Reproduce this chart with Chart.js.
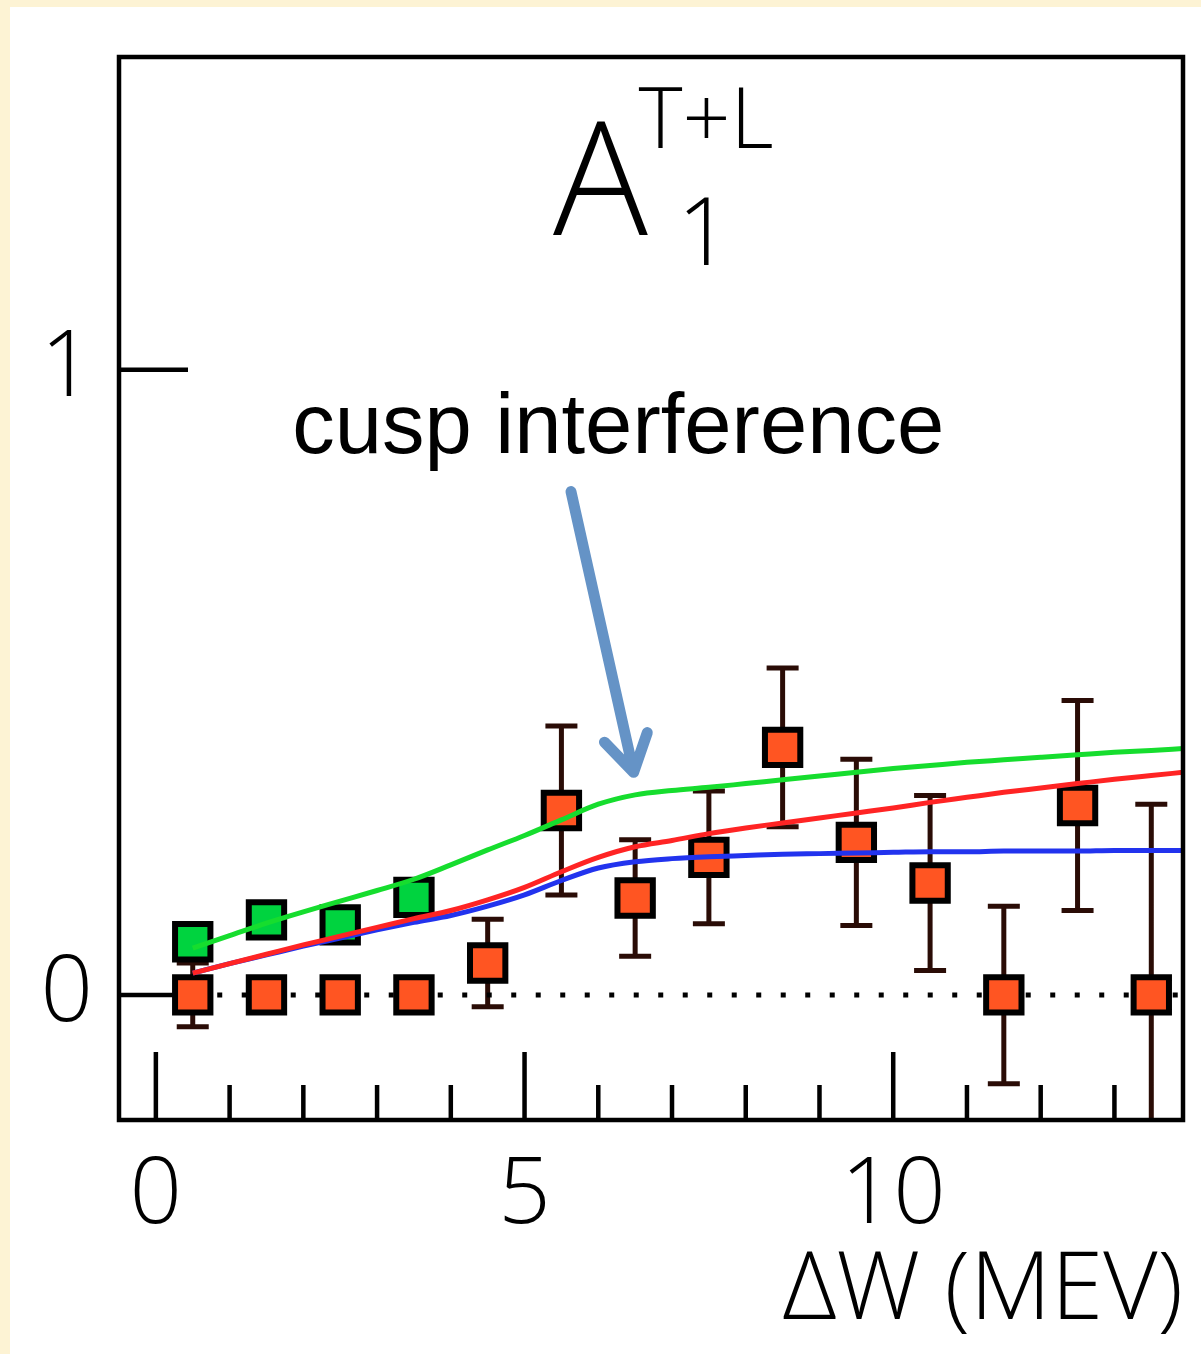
<!DOCTYPE html>
<html>
<head>
<meta charset="utf-8">
<script src="https://cdn.jsdelivr.net/npm/chart.js@4.4.1/dist/chart.umd.min.js"></script>
<style>
  html, body { margin: 0; padding: 0; background: #ffffff; }
</style>
</head>
<body>
<canvas id="asym-chart" width="1201" height="1354"></canvas>
<script>
// measured asymmetry per 1 MeV bin
const binCenters = [0.5, 1.5, 2.5, 3.5, 4.5, 5.5, 6.5, 7.5, 8.5, 9.5, 10.5, 11.5, 12.5, 13.5];
const asymValues = [0, 0, 0, 0, 0.051, 0.295, 0.155, 0.22, 0.396, 0.244, 0.179, 0, 0.303, 0];
const asymErrors = [0.051, 0, 0, 0, 0.07, 0.135, 0.093, 0.106, 0.127, 0.133, 0.14, 0.142, 0.168, 0.305];

// green points (low bins)
const greenX = [0.5, 1.5, 2.5, 3.5];
const greenValues = [0.085, 0.12, 0.112, 0.156];

// model curves
const curveX = [0.5, 1, 1.5, 2, 2.5, 3, 3.5, 4, 4.5, 5, 5.5, 6, 6.5, 7, 7.5, 8, 8.5, 9, 9.5, 10, 10.5, 11, 11.5, 12, 12.5, 13, 13.5, 13.93];
const greenCurve = [0.075, 0.095, 0.115, 0.133, 0.150, 0.167, 0.185, 0.208, 0.232, 0.255, 0.280, 0.305, 0.320, 0.327, 0.332, 0.338, 0.344, 0.350, 0.356, 0.362, 0.367, 0.372, 0.376, 0.380, 0.384, 0.388, 0.391, 0.394];
const redCurve = [0.035, 0.050, 0.065, 0.080, 0.094, 0.108, 0.122, 0.135, 0.152, 0.172, 0.197, 0.220, 0.237, 0.247, 0.258, 0.267, 0.275, 0.283, 0.291, 0.299, 0.308, 0.316, 0.324, 0.331, 0.338, 0.345, 0.351, 0.356];
const blueCurve = [0.035, 0.050, 0.064, 0.078, 0.091, 0.104, 0.116, 0.127, 0.142, 0.160, 0.183, 0.203, 0.213, 0.218, 0.221, 0.223, 0.225, 0.226, 0.227, 0.228, 0.229, 0.229, 0.230, 0.230, 0.230, 0.231, 0.231, 0.231];

// dotted zero reference
const zeroLineX = [0.5, 13.93];
const zeroLineY = [0, 0];

const xTickLabels = [0, 5, 10];
const xMinorTicks = [1, 2, 3, 4, 6, 7, 8, 9, 11, 12, 13];
const yTickLabels = [0, 1];

// annotation (data coordinates)
const noteText = 'cusp interference';
const notePos = [6.27, 0.866];
const arrowFrom = [5.63, 0.805];
const arrowTo = [6.48, 0.356];

const pts = (xs, ys) => xs.map((x, i) => ({x: x, y: ys[i]}));
const FONT = "'Liberation Sans', Arial, sans-serif";
const LIGHT = "'Open Sans', 'Liberation Sans', sans-serif";

// no extra room for tick labels, the layout padding alone places the box
const noScalePadding = s => {
    s.paddingTop = 0; s.paddingBottom = 0; s.paddingLeft = 0; s.paddingRight = 0;
};

const background = {
    id: 'background',
    beforeDraw(chart) {
        const ctx = chart.ctx;
        ctx.save();
        ctx.fillStyle = '#fdf3d4';
        ctx.fillRect(0, 0, chart.width, chart.height);
        ctx.fillStyle = '#ffffff';
        ctx.fillRect(10, 7, chart.width - 10, chart.height - 7);
        ctx.restore();
    }
};

const ticksAndBars = {
    id: 'ticksAndBars',
    beforeDatasetsDraw(chart) {
        const {ctx, chartArea, scales: {x, y}} = chart;
        ctx.save();
        ctx.strokeStyle = '#000';
        ctx.lineWidth = 4.5;
        ctx.beginPath();
        xTickLabels.forEach(v => {
            const px = x.getPixelForValue(v);
            ctx.moveTo(px, chartArea.bottom);
            ctx.lineTo(px, chartArea.bottom - 68);
        });
        xMinorTicks.forEach(v => {
            const px = x.getPixelForValue(v);
            ctx.moveTo(px, chartArea.bottom);
            ctx.lineTo(px, chartArea.bottom - 35);
        });
        yTickLabels.forEach(v => {
            const py = y.getPixelForValue(v);
            ctx.moveTo(chartArea.left, py);
            ctx.lineTo(chartArea.left + 69, py);
        });
        ctx.stroke();

        // error bars
        ctx.beginPath();
        ctx.rect(chartArea.left, chartArea.top, chartArea.right - chartArea.left, chartArea.bottom - chartArea.top);
        ctx.clip();
        ctx.strokeStyle = '#2a0c06';
        ctx.lineWidth = 5;
        ctx.beginPath();
        binCenters.forEach((b, i) => {
            const e = asymErrors[i];
            if (!e) return;
            const px = x.getPixelForValue(b);
            const top = y.getPixelForValue(asymValues[i] + e);
            const bot = y.getPixelForValue(asymValues[i] - e);
            ctx.moveTo(px, top); ctx.lineTo(px, bot);
            ctx.moveTo(px - 16, top); ctx.lineTo(px + 16, top);
            ctx.moveTo(px - 16, bot); ctx.lineTo(px + 16, bot);
        });
        ctx.stroke();
        ctx.restore();
    },
    afterDatasetsDraw(chart) {
        const {ctx, chartArea} = chart;
        ctx.save();
        ctx.strokeStyle = '#000';
        ctx.lineWidth = 4.5;
        ctx.strokeRect(chartArea.left, chartArea.top, chartArea.right - chartArea.left, chartArea.bottom - chartArea.top);
        ctx.restore();
    }
};

const annotations = {
    id: 'annotations',
    afterDraw(chart) {
        const {ctx, scales: {x, y}} = chart;
        ctx.save();
        ctx.fillStyle = '#000';
        ctx.textBaseline = 'alphabetic';

        // A^{T+L}_1
        ctx.textAlign = 'left';
        ctx.font = '300 158px ' + LIGHT;
        ctx.fillText('A', 553, 235);
        ctx.textAlign = 'center';
        ctx.font = '300 84px ' + LIGHT;
        ctx.fillText('T+L', 706, 148);
        ctx.font = '300 94px ' + LIGHT;
        ctx.fillText('1', 704, 265);

        ctx.font = '85px ' + FONT;
        ctx.fillText(noteText, x.getPixelForValue(notePos[0]), y.getPixelForValue(notePos[1]));

        // arrow
        const x0 = x.getPixelForValue(arrowFrom[0]), y0 = y.getPixelForValue(arrowFrom[1]);
        const x1 = x.getPixelForValue(arrowTo[0]), y1 = y.getPixelForValue(arrowTo[1]);
        const ang = Math.atan2(y1 - y0, x1 - x0);
        ctx.strokeStyle = '#6593c6';
        ctx.lineWidth = 11;
        ctx.lineCap = 'round';
        ctx.lineJoin = 'round';
        ctx.beginPath();
        ctx.moveTo(x0, y0);
        ctx.lineTo(x1, y1);
        ctx.moveTo(x1 - 42 * Math.cos(ang - 0.55), y1 - 42 * Math.sin(ang - 0.55));
        ctx.lineTo(x1, y1);
        ctx.lineTo(x1 - 42 * Math.cos(ang + 0.55), y1 - 42 * Math.sin(ang + 0.55));
        ctx.stroke();
        ctx.restore();
    }
};

const curve = (data, color) => ({
    type: 'scatter',
    data: data,
    showLine: true,
    borderColor: color,
    borderWidth: 5,
    pointRadius: 0,
    fill: false,
    cubicInterpolationMode: 'monotone',
    order: 1
});

const marker = (data, fillColor) => ({
    type: 'scatter',
    data: data,
    showLine: false,
    pointStyle: 'rect',
    pointRadius: 25,
    pointHoverRadius: 25,
    borderWidth: 6,
    borderColor: '#000000',
    backgroundColor: fillColor,
    order: 2
});

new Chart(document.getElementById('asym-chart'), {
    type: 'scatter',
    data: {
        datasets: [
            curve(pts(curveX, greenCurve), '#16dd2e'),
            curve(pts(curveX, redCurve), '#ff2424'),
            curve(pts(curveX, blueCurve), '#2233ee'),
            marker(pts(greenX, greenValues), '#00d33f'),
            marker(pts(binCenters, asymValues), '#ff5522'),
            {
                type: 'scatter',
                data: pts(zeroLineX, zeroLineY),
                showLine: true,
                borderColor: '#000',
                borderWidth: 5,
                borderDash: [5, 19.5],
                pointRadius: 0,
                order: 3
            }
        ]
    },
    options: {
        responsive: false,
        animation: false,
        events: [],
        layout: { autoPadding: false, padding: { left: 10, top: 57, right: 18, bottom: 0 } },
        plugins: { legend: { display: false }, tooltip: { enabled: false } },
        scales: {
            x: {
                type: 'linear',
                min: -0.5,
                max: 13.93,
                grid: { display: false, drawTicks: false },
                border: { display: false },
                afterBuildTicks: s => { s.ticks = xTickLabels.map(v => ({value: v})); },
                afterFit: s => { s.height = 234; noScalePadding(s); },
                ticks: { color: '#000', padding: 22, font: { family: LIGHT, size: 92, weight: '300' } },
                title: {
                    display: true,
                    text: 'ΔW (MEV)',
                    align: 'end',
                    color: '#000',
                    padding: { top: 0, bottom: 5 },
                    font: { family: LIGHT, size: 94, weight: '300' }
                }
            },
            y: {
                type: 'linear',
                min: -0.2,
                max: 1.5,
                grid: { display: false, drawTicks: false },
                border: { display: false },
                afterBuildTicks: s => { s.ticks = yTickLabels.map(v => ({value: v})); },
                afterFit: s => { s.width = 109; noScalePadding(s); },
                ticks: { color: '#000', padding: 26, font: { family: LIGHT, size: 92, weight: '300' } }
            }
        }
    },
    plugins: [background, ticksAndBars, annotations]
});
</script>
</body>
</html>
